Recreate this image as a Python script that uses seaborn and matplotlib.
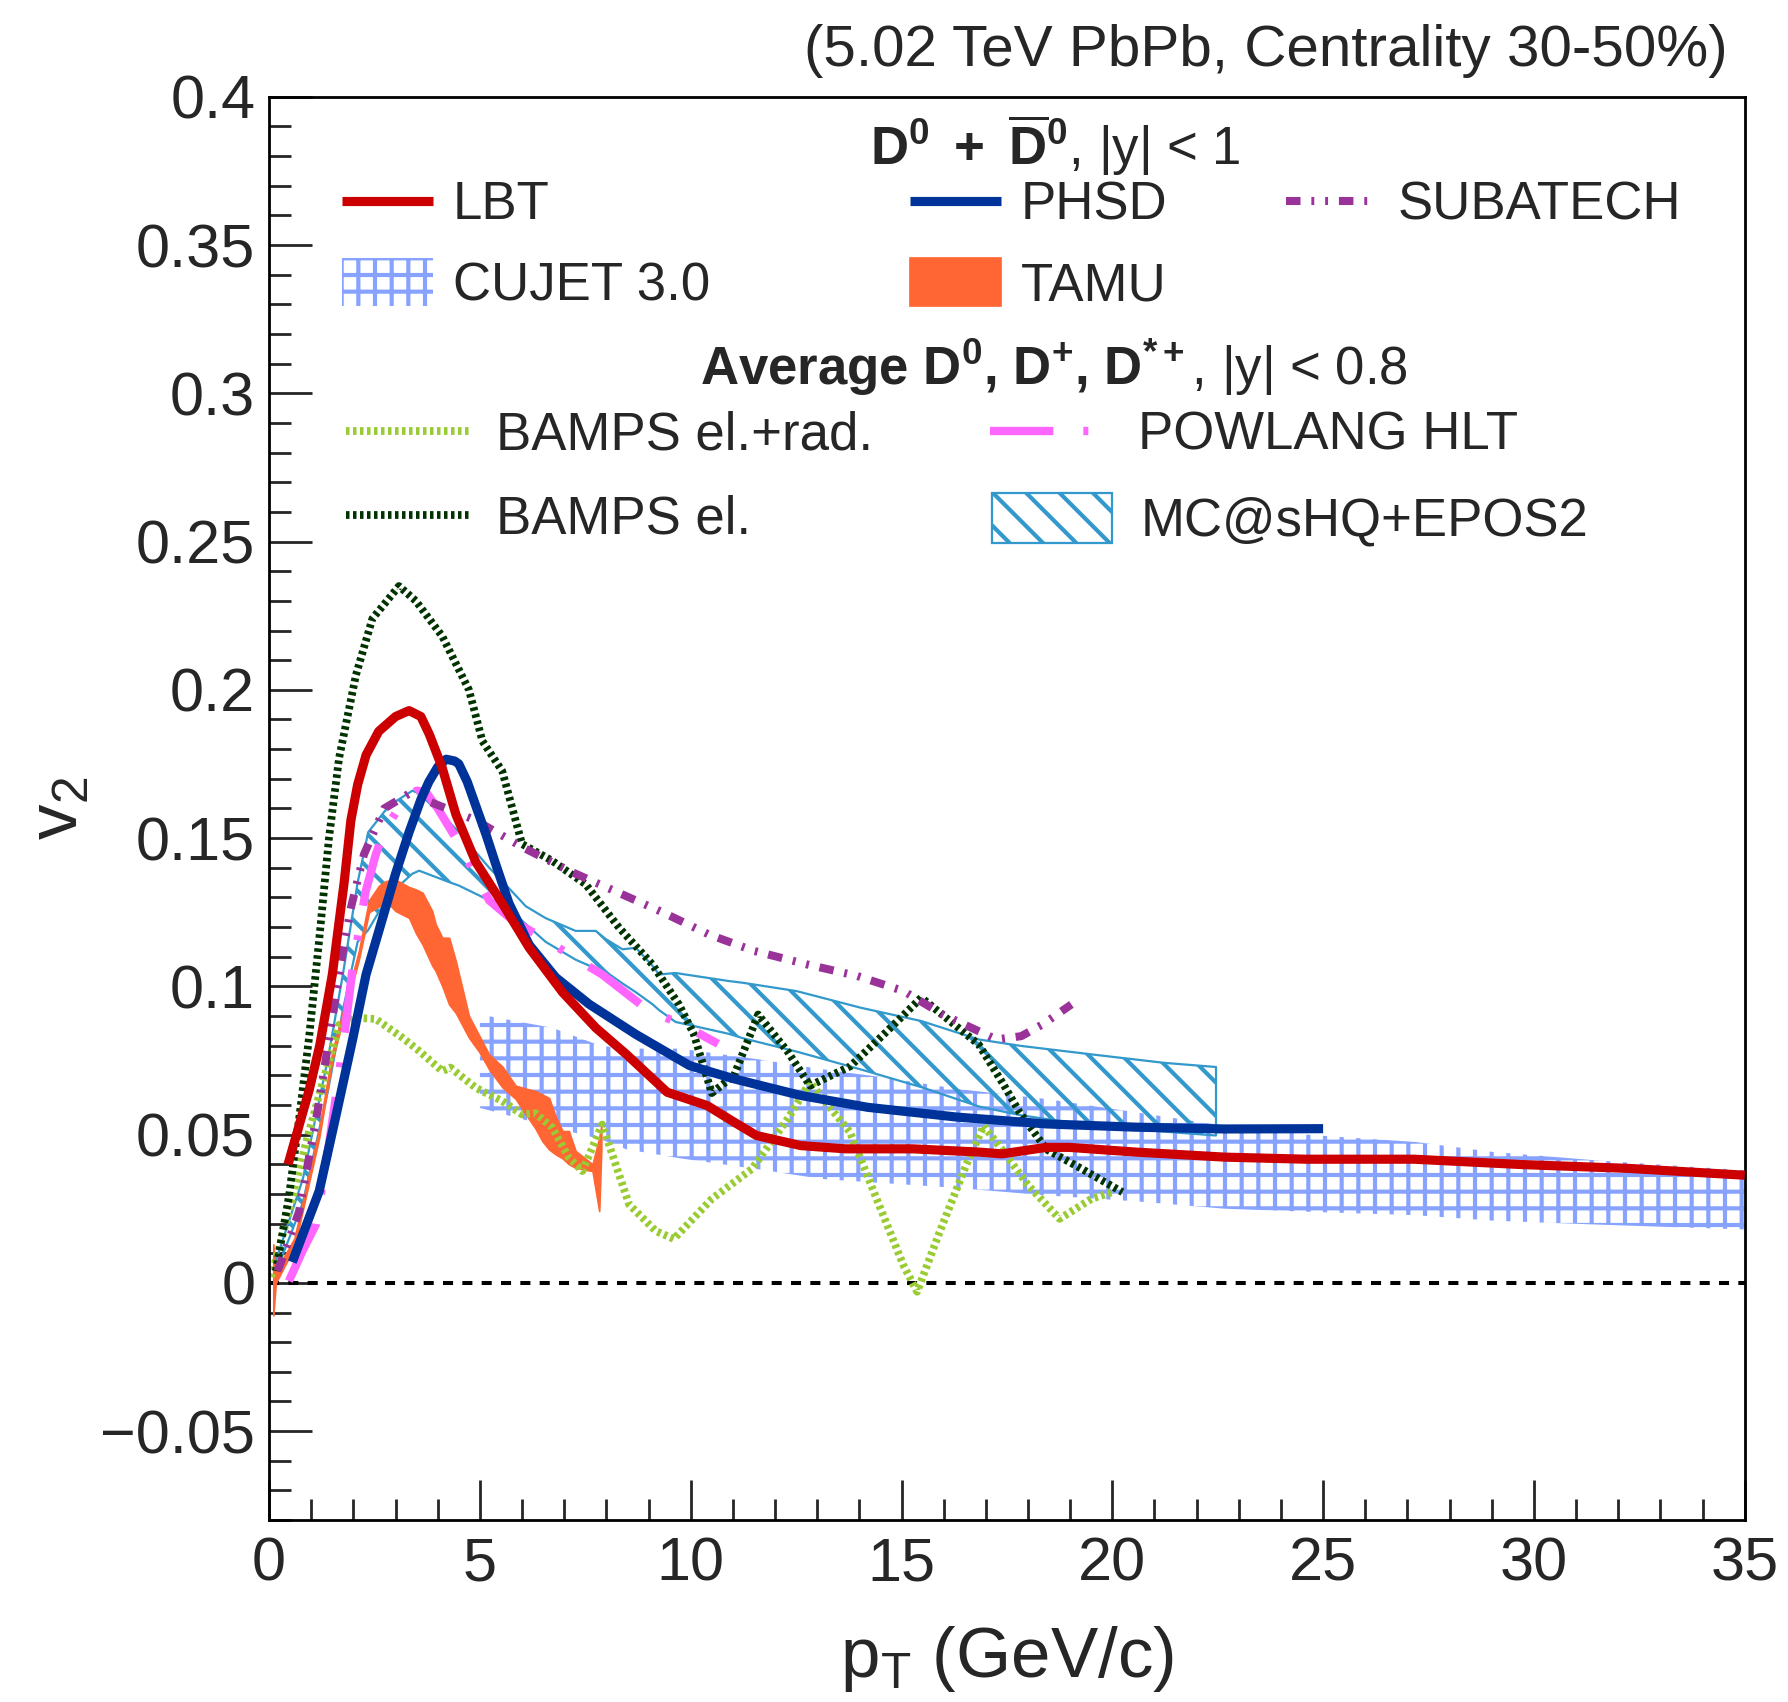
import numpy as np
import pandas as pd
import seaborn as sns
import matplotlib
matplotlib.use("Agg")
import matplotlib.pyplot as plt
from matplotlib.lines import Line2D
from matplotlib.patches import Patch
from matplotlib.legend import Legend
from matplotlib.ticker import MultipleLocator, FuncFormatter

# ---------------- data ----------------
lbt_pt = [0.45, 0.95, 1.2, 1.5, 1.78, 1.94, 2.1, 2.3, 2.6, 3.0, 3.32, 3.6, 3.8, 4.1, 4.43, 4.9,
          5.53, 6.17, 6.96, 7.75, 8.48, 9.44, 10.39, 11.03, 11.56, 12.61, 13.67, 15.26, 16.85,
          17.38, 18.44, 18.97, 20.56, 22.67, 24.6, 27.16, 29.7, 32.25, 35.0]
lbt_v2 = [0.040, 0.065, 0.080, 0.104, 0.135, 0.156, 0.168, 0.178, 0.186, 0.191, 0.193, 0.191,
          0.185, 0.174, 0.158, 0.142, 0.128, 0.113, 0.098, 0.086, 0.077, 0.0643, 0.0598, 0.0542,
          0.0497, 0.0463, 0.0452, 0.0452, 0.0441, 0.0435, 0.0457, 0.0457, 0.0441, 0.0424, 0.0417,
          0.0417, 0.0399, 0.0386, 0.0363]

phsd_pt = [0.55, 1.19, 1.58, 1.98, 2.3, 2.61, 3.0, 3.32, 3.6, 3.79, 4.0, 4.2, 4.4, 4.5, 4.7, 4.9,
           5.15, 5.38, 5.69, 6.17, 6.8, 7.59, 8.7, 9.97, 11.03, 12.61, 14.2, 16.32, 18.44, 20.56,
           22.67, 25.0]
phsd_v2 = [0.007, 0.031, 0.056, 0.082, 0.104, 0.119, 0.138, 0.152, 0.163, 0.169, 0.174, 0.1766,
           0.176, 0.175, 0.169, 0.161, 0.151, 0.141, 0.128, 0.114, 0.103, 0.094, 0.0838, 0.0733,
           0.0688, 0.0632, 0.0592, 0.0559, 0.0536, 0.0525, 0.0519, 0.052]

subatech_pt = [0.2, 0.32, 0.71, 1.15, 1.54, 1.74, 1.94, 2.25, 2.73, 3.32, 4.03, 4.9, 6.0, 7.11,
               8.22, 9.33, 10.43, 11.49, 12.76, 13.95, 15.05, 15.98, 17.25, 17.84, 18.35, 19.03]
subatech_v2 = [0.004, 0.0085, 0.024, 0.058, 0.093, 0.111, 0.1265, 0.1445, 0.160, 0.165, 0.161,
               0.156, 0.147, 0.139, 0.132, 0.125, 0.1175, 0.112, 0.1074, 0.1035, 0.0984, 0.0905,
               0.0821, 0.0832, 0.0872, 0.0939]

powlang_pt = [0.47, 0.79, 1.11, 1.42, 1.58, 1.82, 1.98, 2.29, 2.53, 2.73, 3.16, 3.5, 3.72, 4.0,
              4.43, 5.22, 5.8, 6.48, 7.2, 7.9, 9.01, 9.8, 10.65]
powlang_v2 = [0.0006, 0.0107, 0.0197, 0.0467, 0.0624, 0.0875, 0.106, 0.132, 0.1445, 0.1524,
              0.162, 0.166, 0.1655, 0.160, 0.150, 0.129, 0.122, 0.1164, 0.110, 0.104, 0.0917,
              0.0872, 0.0806]

bamps_el_pt = [0.16, 0.47, 0.71, 0.95, 1.19, 1.42, 1.66, 2.06, 2.45, 3.08, 3.48, 4.11, 4.74,
               5.06, 5.53, 5.85, 6.0, 6.72, 7.51, 8.3, 9.09, 9.72, 10.07, 10.5, 11.03, 11.6,
               12.3, 12.83, 13.78, 14.63, 15.47, 16.15, 16.83, 17.42, 17.8, 18.44, 19.28, 20.24]
bamps_el_v2 = [0.004, 0.029, 0.055, 0.083, 0.116, 0.150, 0.177, 0.205, 0.224, 0.235, 0.230,
               0.218, 0.200, 0.1827, 0.1726, 0.1558, 0.148, 0.1423, 0.1344, 0.1198, 0.1074,
               0.0939, 0.084, 0.064, 0.070, 0.0905, 0.078, 0.0665, 0.073, 0.0845, 0.0962, 0.0883,
               0.0804, 0.0669, 0.0575, 0.045, 0.0384, 0.0306]

bamps_rad_pt = [0.05, 0.47, 0.87, 1.26, 1.66, 2.06, 2.53, 3.16, 3.56, 4.11, 4.3, 4.9, 5.53, 6.0,
                6.32, 6.72, 7.11, 7.43, 7.9, 8.06, 8.54, 9.17, 9.6, 10.5, 11.45, 12.3, 12.83,
                13.14, 13.78, 14.41, 15.05, 15.37, 15.9, 16.53, 16.95, 17.38, 18.01, 18.75,
                19.5, 20.0]
bamps_rad_v2 = [0.002, 0.024, 0.047, 0.067, 0.087, 0.0894, 0.089, 0.0827, 0.0782, 0.0714,
                0.0726, 0.0658, 0.0613, 0.0568, 0.0572, 0.0523, 0.0422, 0.0377, 0.0534, 0.0467,
                0.0264, 0.0175, 0.0148, 0.0283, 0.0384, 0.0553, 0.0677, 0.062, 0.0508, 0.0283,
                0.0058, -0.003, 0.017, 0.0396, 0.053, 0.045, 0.0328, 0.0216, 0.0283, 0.0306]

tamu_pt = [0.10, 0.16, 0.6, 1.19, 1.5, 2.13, 2.37, 2.61, 2.77, 3.0, 3.32, 3.48, 3.64, 3.87, 3.95,
           4.11, 4.27, 4.43, 4.74, 4.98, 5.22, 5.53, 5.85, 6.09, 6.32, 6.48, 6.64, 6.8, 6.96,
           7.11, 7.27, 7.67, 7.83, 7.88]
tamu_lo = [-0.011, 0.000, 0.012, 0.049, 0.075, 0.109, 0.125, 0.127, 0.1288, 0.1254, 0.1231,
           0.118, 0.1141, 0.107, 0.1052, 0.100, 0.0939, 0.091, 0.0827, 0.078, 0.072, 0.066,
           0.062, 0.0568, 0.052, 0.0478, 0.045, 0.0433, 0.042, 0.040, 0.0388, 0.0377, 0.0242,
           0.045]
tamu_hi = [0.013, 0.004, 0.015, 0.052, 0.078, 0.112, 0.129, 0.134, 0.1355, 0.136, 0.1335,
           0.1327, 0.1316, 0.1254, 0.121, 0.1164, 0.1164, 0.1085, 0.090, 0.0835, 0.077, 0.073,
           0.0665, 0.0655, 0.0647, 0.0635, 0.0624, 0.056, 0.0512, 0.0512, 0.0445, 0.040, 0.049,
           0.053]

cujet_pt = [5.0, 6.72, 7.85, 8.48, 9.75, 11.55, 13.14, 14.73, 16.32, 18.44, 20.56, 22.67, 24.6,
            27.2, 29.0, 31.4, 33.9, 35.0]
cujet_lo = [0.059, 0.0525, 0.0485, 0.045, 0.042, 0.0384, 0.035, 0.0335, 0.032, 0.0295, 0.0275,
            0.025, 0.024, 0.0228, 0.021, 0.0197, 0.0185, 0.018]
cujet_hi = [0.0905, 0.086, 0.080, 0.079, 0.079, 0.0755, 0.072, 0.069, 0.0654, 0.062, 0.0575,
            0.053, 0.050, 0.0475, 0.0442, 0.0414, 0.039, 0.038]

mc_pt = [0.15, 0.8, 1.4, 1.75, 2.1, 2.35, 2.85, 3.4, 3.56, 4.3, 4.5, 5.22, 5.53, 6.09, 6.56, 7.27,
         7.75, 7.98, 8.38, 8.7, 9.09, 9.25, 9.64, 10.9, 11.24, 12.51, 14.03, 15.47, 16.83,
         17.84, 19.54, 21.23, 22.46]
mc_lo = [0.003, 0.027, 0.065, 0.092, 0.115, 0.119, 0.131, 0.138, 0.139, 0.135, 0.134, 0.129,
         0.126, 0.121, 0.115, 0.109, 0.106, 0.105, 0.101, 0.098, 0.094, 0.092, 0.088, 0.084,
         0.0825, 0.078, 0.072, 0.066, 0.0595, 0.0565, 0.053, 0.051, 0.0497]
mc_hi = [0.007, 0.035, 0.076, 0.104, 0.135, 0.152, 0.161, 0.166, 0.165, 0.155, 0.152, 0.140,
         0.1355, 0.127, 0.123, 0.1187, 0.1187, 0.116, 0.1125, 0.113, 0.107, 0.104, 0.1045,
         0.1018, 0.1012, 0.0984, 0.0928, 0.0883, 0.0821, 0.0799, 0.077, 0.0742, 0.0728]

x_ticks = [0, 5, 10, 15, 20, 25, 30, 35]

# ---------------- style ----------------
sns.set_theme(style="ticks")
plt.rcParams["font.family"] = ["Liberation Sans", "DejaVu Sans"]
plt.rcParams["mathtext.fontset"] = "custom"
plt.rcParams["mathtext.rm"] = "Liberation Sans"
plt.rcParams["mathtext.sf"] = "Liberation Sans"
plt.rcParams["mathtext.it"] = "Liberation Sans:italic"
plt.rcParams["mathtext.bf"] = "Liberation Sans:bold"
plt.rcParams["hatch.linewidth"] = 1.5
plt.rcParams["axes.unicode_minus"] = True

C_LBT = "#cc0000"
C_PHSD = "#003399"
C_SUB = "#993399"
C_CUJET = (0.25, 0.42, 1.0, 0.62)
C_TAMU = "#ff6633"
C_RAD = "#99cc33"
C_POW = "#ff66ff"
C_EL = "#003300"
C_MC = "#3399cc"

H_CUJET = "++"
H_MC = "\\\\"

LS_SUB = (0, (1.8, 1.35, 0.36, 1.35, 0.36, 1.35))
LS_POW = (0, (7.6, 3.6, 0.6, 3.6))
LS_DOT = (0, (0.45, 0.45))

fig = plt.figure(figsize=(8.94, 8.51), dpi=200)
ax = fig.add_axes([0.1505, 0.1069, 0.8253, 0.8362])

# bands
ax.fill_between(cujet_pt, cujet_lo, cujet_hi, facecolor="none", edgecolor=C_CUJET,
                hatch=H_CUJET, linewidth=0, zorder=1)
ax.fill_between(mc_pt, mc_lo, mc_hi, facecolor="none", edgecolor=C_MC,
                hatch=H_MC, linewidth=0.8, zorder=1.5)
ax.fill_between(tamu_pt, tamu_lo, tamu_hi, facecolor=C_TAMU, edgecolor=C_TAMU,
                linewidth=0.6, zorder=2)

ax.axhline(0, color="black", lw=1.45, linestyle=(0, (2.5, 2.3)), zorder=1.8)

def draw(pt, v2, color, lw, ls, z):
    sns.lineplot(x=pt, y=v2, ax=ax, color=color, linewidth=lw, linestyle=ls,
                 estimator=None, sort=False, zorder=z, legend=False,
                 solid_capstyle="butt", dash_capstyle="butt")

draw(bamps_rad_pt, bamps_rad_v2, C_RAD, 2.8, LS_DOT, 2.2)
draw(bamps_el_pt, bamps_el_v2, C_EL, 2.8, LS_DOT, 2.3)
draw(powlang_pt, powlang_v2, C_POW, 3.0, LS_POW, 2.5)
draw(subatech_pt, subatech_v2, C_SUB, 2.9, LS_SUB, 2.6)
draw(phsd_pt, phsd_v2, C_PHSD, 3.3, "-", 2.8)
draw(lbt_pt, lbt_v2, C_LBT, 3.3, "-", 3.0)

# axes
ax.set_xlim(0, 35)
ax.set_ylim(-0.08, 0.4)
ax.set_xticks(x_ticks)
ax.xaxis.set_minor_locator(MultipleLocator(1))
ax.yaxis.set_major_locator(MultipleLocator(0.05))
ax.yaxis.set_minor_locator(MultipleLocator(0.01))
ax.yaxis.set_major_formatter(FuncFormatter(
    lambda v, p: (f"{round(v, 3):g}").replace("-", "\u2212")))
ax.xaxis.set_major_formatter(FuncFormatter(lambda v, p: f"{round(v):d}"))
ax.tick_params(axis="y", which="major", direction="in", length=15.5, width=1.0,
               labelsize=22, pad=5, left=True, right=False)
ax.tick_params(axis="y", which="minor", direction="in", length=7.9, width=1.0,
               left=True, right=False)
ax.tick_params(axis="x", which="major", direction="in", length=14.4, width=1.0,
               labelsize=22, pad=6, bottom=True, top=False)
ax.tick_params(axis="x", which="minor", direction="in", length=7.4, width=1.0,
               bottom=True, top=False)
for s in ax.spines.values():
    s.set_linewidth(1.0)
    s.set_color("black")
    s.set_visible(True)

ax.set_xlabel(r"p$_{\mathrm{T}}$ (GeV/c)", fontsize=25.5)
ax.xaxis.set_label_coords(0.5, -0.073)
ax.set_ylabel(r"v$_{2}$", fontsize=25.5, rotation=90)
ax.yaxis.set_label_coords(-0.142, 0.5)
ax.yaxis.label.set_verticalalignment("center")

fig.text(0.966, 0.970, "(5.02 TeV PbPb, Centrality 30-50%)", ha="right", va="center",
         fontsize=21)

# legend headers
ax.text(0.533, 0.9655, r"$\mathbf{D^{0}\ +\ \overline{D}^{0}}$, |y| < 1",
        transform=ax.transAxes, ha="center", va="center", fontsize=19)
ax.text(0.532, 0.810, r"$\mathbf{Average\ D^{0}{,}\ D^{+}{,}\ D^{*+}}$, |y| < 0.8",
        transform=ax.transAxes, ha="center", va="center", fontsize=19)

def entry(handle, label, x, y, hl, htp, hh=0.7):
    leg = Legend(ax, [handle], [label], loc="center left", bbox_to_anchor=(x, y),
                 bbox_transform=ax.transAxes, frameon=False, borderpad=0,
                 borderaxespad=0, handlelength=hl, handletextpad=htp, handleheight=hh,
                 fontsize=19)
    ax.add_artist(leg)

h_lbt = Line2D([], [], color=C_LBT, lw=3.3, solid_capstyle="butt")
h_phsd = Line2D([], [], color=C_PHSD, lw=3.3, solid_capstyle="butt")
h_sub = Line2D([], [], color=C_SUB, lw=2.9, linestyle=LS_SUB, dash_capstyle="butt")
h_cujet = Patch(facecolor="none", edgecolor=C_CUJET, hatch=H_CUJET, linewidth=0)
h_tamu = Patch(facecolor=C_TAMU, edgecolor=C_TAMU, linewidth=0.6)
h_rad = Line2D([], [], color=C_RAD, lw=2.8, linestyle=LS_DOT, dash_capstyle="butt")
h_el = Line2D([], [], color=C_EL, lw=2.8, linestyle=LS_DOT, dash_capstyle="butt")
h_pow = Line2D([], [], color=C_POW, lw=3.0, linestyle=LS_POW, dash_capstyle="butt")
h_mc = Patch(facecolor="none", edgecolor=C_MC, hatch=H_MC, linewidth=0.8)

entry(h_lbt, "LBT", 0.0495, 0.9238, 1.73, 0.37)
entry(h_phsd, "PHSD", 0.4343, 0.9238, 1.73, 0.37)
entry(h_sub, "SUBATECH", 0.6893, 0.9238, 1.73, 0.37)
entry(h_cujet, "CUJET 3.0", 0.0495, 0.8678, 1.73, 0.37, hh=1.02)
entry(h_tamu, "TAMU", 0.4343, 0.8678, 1.73, 0.37, hh=1.02)
entry(h_rad, "BAMPS el.+rad.", 0.0518, 0.762, 2.38, 0.475)
entry(h_pow, "POWLANG HLT", 0.4884, 0.762, 2.27, 0.54)
entry(h_el, "BAMPS el.", 0.0518, 0.7027, 2.38, 0.475)
entry(h_mc, "MC@sHQ+EPOS2", 0.4899, 0.7027, 2.27, 0.54, hh=1.08)

fig.savefig("out.png", dpi=200)
